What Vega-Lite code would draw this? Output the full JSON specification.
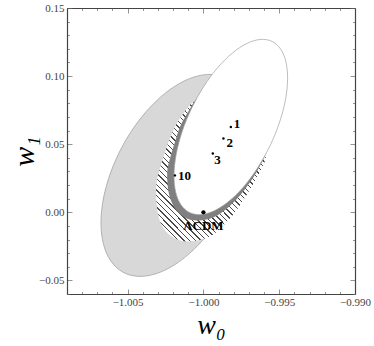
{
"$schema":"https://vega.github.io/schema/vega-lite/v6.json",
"width":288,"height":286,
"autosize":{"type":"none"},
"padding":{"left":67,"top":8,"right":19,"bottom":52},
"background":"white",
"datasets":{
"shapes":[
{"s":"A","i":0,"x":-0.997005,"y":0.061887},{"s":"A","i":1,"x":-0.997171,"y":0.043749},{"s":"A","i":2,"x":-0.997659,"y":0.024474},{"s":"A","i":3,"x":-0.998434,"y":0.005380},{"s":"A","i":4,"x":-0.999444,"y":-0.012235},{"s":"A","i":5,"x":-1.000620,"y":-0.027174},{"s":"A","i":6,"x":-1.001882,"y":-0.038414},{"s":"A","i":7,"x":-1.003144,"y":-0.045188},{"s":"A","i":8,"x":-1.004321,"y":-0.047039},{"s":"A","i":9,"x":-1.005331,"y":-0.043840},{"s":"A","i":10,"x":-1.006105,"y":-0.035806},{"s":"A","i":11,"x":-1.006593,"y":-0.023485},{"s":"A","i":12,"x":-1.006759,"y":-0.007721},{"s":"A","i":13,"x":-1.006593,"y":0.010417},{"s":"A","i":14,"x":-1.006105,"y":0.029692},{"s":"A","i":15,"x":-1.005331,"y":0.048786},{"s":"A","i":16,"x":-1.004321,"y":0.066401},{"s":"A","i":17,"x":-1.003144,"y":0.081340},{"s":"A","i":18,"x":-1.001882,"y":0.092580},{"s":"A","i":19,"x":-1.000620,"y":0.099354},{"s":"A","i":20,"x":-0.999444,"y":0.101205},{"s":"A","i":21,"x":-0.998434,"y":0.098006},{"s":"A","i":22,"x":-0.997659,"y":0.089972},{"s":"A","i":23,"x":-0.997171,"y":0.077651},
{"s":"B","i":0,"x":-0.999820,"y":0.080465},{"s":"B","i":1,"x":-1.000610,"y":0.081199},{"s":"B","i":2,"x":-1.001237,"y":0.073856},{"s":"B","i":3,"x":-1.001863,"y":0.063062},{"s":"B","i":4,"x":-1.002324,"y":0.050874},{"s":"B","i":5,"x":-1.002653,"y":0.040080},{"s":"B","i":6,"x":-1.002950,"y":0.029066},{"s":"B","i":7,"x":-1.003115,"y":0.018786},{"s":"B","i":8,"x":-1.003082,"y":0.005569},{"s":"B","i":9,"x":-1.002851,"y":-0.006913},{"s":"B","i":10,"x":-1.002324,"y":-0.015725},{"s":"B","i":11,"x":-1.001467,"y":-0.020865},{"s":"B","i":12,"x":-1.000479,"y":-0.020865},{"s":"B","i":13,"x":-0.999556,"y":-0.017560},{"s":"B","i":14,"x":-0.998765,"y":-0.010585},{"s":"B","i":15,"x":-0.997843,"y":0.001163},{"s":"B","i":16,"x":-0.996986,"y":0.015849},{"s":"B","i":17,"x":-0.996195,"y":0.031269},{"s":"B","i":18,"x":-0.995865,"y":0.042283},{"s":"B","i":19,"x":-0.996129,"y":0.053297},{"s":"B","i":20,"x":-0.997249,"y":0.064311},{"s":"B","i":21,"x":-0.998567,"y":0.073856},
{"s":"C","i":0,"x":-0.999820,"y":0.086339},{"s":"C","i":1,"x":-1.000446,"y":0.083402},{"s":"C","i":2,"x":-1.001006,"y":0.073856},{"s":"C","i":3,"x":-1.001533,"y":0.063062},{"s":"C","i":4,"x":-1.001896,"y":0.050874},{"s":"C","i":5,"x":-1.002192,"y":0.040080},{"s":"C","i":6,"x":-1.002390,"y":0.029066},{"s":"C","i":7,"x":-1.002278,"y":0.013646},{"s":"C","i":8,"x":-1.001849,"y":0.002412},{"s":"C","i":9,"x":-1.001098,"y":-0.004564},{"s":"C","i":10,"x":-1.000149,"y":-0.005885},{"s":"C","i":11,"x":-0.999108,"y":-0.002508},{"s":"C","i":12,"x":-0.998126,"y":0.006010},{"s":"C","i":13,"x":-0.997190,"y":0.018052},{"s":"C","i":14,"x":-0.996340,"y":0.032590},{"s":"C","i":15,"x":-0.995865,"y":0.045954},{"s":"C","i":16,"x":-0.996590,"y":0.054765},{"s":"C","i":17,"x":-0.997908,"y":0.069451},{"s":"C","i":18,"x":-0.999029,"y":0.081199},
{"s":"D","i":0,"x":-0.995477,"y":0.125475},{"s":"D","i":1,"x":-0.994901,"y":0.119748},{"s":"D","i":2,"x":-0.994550,"y":0.110129},{"s":"D","i":3,"x":-0.994446,"y":0.097273},{"s":"D","i":4,"x":-0.994598,"y":0.082056},{"s":"D","i":5,"x":-0.994995,"y":0.065511},{"s":"D","i":6,"x":-0.995609,"y":0.048773},{"s":"D","i":7,"x":-0.996400,"y":0.032979},{"s":"D","i":8,"x":-0.997313,"y":0.019202},{"s":"D","i":9,"x":-0.998285,"y":0.008385},{"s":"D","i":10,"x":-0.999252,"y":0.001266},{"s":"D","i":11,"x":-1.000146,"y":-0.001672},{"s":"D","i":12,"x":-1.000907,"y":-0.000231},{"s":"D","i":13,"x":-1.001483,"y":0.005496},{"s":"D","i":14,"x":-1.001835,"y":0.015115},{"s":"D","i":15,"x":-1.001938,"y":0.027971},{"s":"D","i":16,"x":-1.001786,"y":0.043188},{"s":"D","i":17,"x":-1.001390,"y":0.059733},{"s":"D","i":18,"x":-1.000775,"y":0.076471},{"s":"D","i":19,"x":-0.999984,"y":0.092265},{"s":"D","i":20,"x":-0.999072,"y":0.106042},{"s":"D","i":21,"x":-0.998099,"y":0.116859},{"s":"D","i":22,"x":-0.997133,"y":0.123978},{"s":"D","i":23,"x":-0.996238,"y":0.126916}
],
"pts":[
{"label":"1","x":-0.99819,"y":0.0626},
{"label":"2","x":-0.99868,"y":0.0542},
{"label":"3","x":-0.99938,"y":0.0432},
{"label":"10","x":-1.00188,"y":0.0271},
{"label":"ΛCDM","x":-1.0,"y":0.0}
]
},
"resolve":{"axis":{"x":"independent","y":"independent"}},
"layer":[
{"data":{"name":"shapes"},"transform":[{"filter":"datum.s=='A'"}],
 "mark":{"type":"line","interpolate":"cardinal-closed","filled":true,"fill":"#d8d8d8","stroke":"#9a9a9a","strokeWidth":0.7},
 "encoding":{
  "x":{"field":"x","type":"quantitative","scale":{"domain":[-1.009,-0.99],"nice":false,"zero":false},
   "axis":{"orient":"bottom","values":[-1.009,-1.008,-1.007,-1.006,-1.005,-1.004,-1.003,-1.002,-1.001,-1,-0.999,-0.998,-0.997,-0.996,-0.995,-0.994,-0.993,-0.992,-0.991,-0.99],
    "labelExpr":"abs(round(datum.value*1000))%5==0 ? format(datum.value,'.3f') : ''",
    "tickSize":{"condition":{"test":"abs(round(datum.value*1000))%5==0","value":-5},"value":-2.5},
    "labelPadding":7,
    "title":"w₀","titleFont":"Liberation Serif","titleFontStyle":"italic","titleFontWeight":"normal","titleFontSize":28,"titleColor":"#000","titleBaseline":"alphabetic","titleY":39}},
  "y":{"field":"y","type":"quantitative","scale":{"domain":[-0.06,0.15],"nice":false,"zero":false},
   "axis":{"orient":"left","values":[-0.06,-0.05,-0.04,-0.03,-0.02,-0.01,0,0.01,0.02,0.03,0.04,0.05,0.06,0.07,0.08,0.09,0.1,0.11,0.12,0.13,0.14,0.15],
    "labelExpr":"abs(round(datum.value*100))%5==0 ? format(datum.value,'.2f') : ''",
    "tickSize":{"condition":{"test":"abs(round(datum.value*100))%5==0","value":-5},"value":-2.5},
    "labelPadding":8,
    "title":"w₁","titleFont":"Liberation Serif","titleFontStyle":"italic","titleFontWeight":"normal","titleFontSize":30,"titleColor":"#000","titleBaseline":"alphabetic","titleX":-34}},
  "order":{"field":"i","type":"quantitative"}}},
{"data":{"name":"shapes"},"transform":[{"filter":"datum.s=='B'"}],
 "mark":{"type":"line","interpolate":"cardinal-closed","filled":true,"strokeWidth":0,"strokeOpacity":0,
  "fill":{"gradient":"linear","x1":0,"y1":1,"x2":0.786,"y2":0,"stops":[
{"offset":0,"color":"#4a4a4a"},{"offset":0.006,"color":"#4a4a4a"},{"offset":0.006,"color":"#fff"},{"offset":0.025,"color":"#fff"},
{"offset":0.025,"color":"#4a4a4a"},{"offset":0.031,"color":"#4a4a4a"},{"offset":0.031,"color":"#fff"},{"offset":0.05,"color":"#fff"},
{"offset":0.05,"color":"#4a4a4a"},{"offset":0.056,"color":"#4a4a4a"},{"offset":0.056,"color":"#fff"},{"offset":0.075,"color":"#fff"},
{"offset":0.075,"color":"#4a4a4a"},{"offset":0.081,"color":"#4a4a4a"},{"offset":0.081,"color":"#fff"},{"offset":0.1,"color":"#fff"},
{"offset":0.1,"color":"#4a4a4a"},{"offset":0.106,"color":"#4a4a4a"},{"offset":0.106,"color":"#fff"},{"offset":0.125,"color":"#fff"},
{"offset":0.125,"color":"#4a4a4a"},{"offset":0.131,"color":"#4a4a4a"},{"offset":0.131,"color":"#fff"},{"offset":0.15,"color":"#fff"},
{"offset":0.15,"color":"#4a4a4a"},{"offset":0.156,"color":"#4a4a4a"},{"offset":0.156,"color":"#fff"},{"offset":0.175,"color":"#fff"},
{"offset":0.175,"color":"#4a4a4a"},{"offset":0.181,"color":"#4a4a4a"},{"offset":0.181,"color":"#fff"},{"offset":0.2,"color":"#fff"},
{"offset":0.2,"color":"#4a4a4a"},{"offset":0.206,"color":"#4a4a4a"},{"offset":0.206,"color":"#fff"},{"offset":0.225,"color":"#fff"},
{"offset":0.225,"color":"#4a4a4a"},{"offset":0.231,"color":"#4a4a4a"},{"offset":0.231,"color":"#fff"},{"offset":0.25,"color":"#fff"},
{"offset":0.25,"color":"#4a4a4a"},{"offset":0.256,"color":"#4a4a4a"},{"offset":0.256,"color":"#fff"},{"offset":0.275,"color":"#fff"},
{"offset":0.275,"color":"#4a4a4a"},{"offset":0.281,"color":"#4a4a4a"},{"offset":0.281,"color":"#fff"},{"offset":0.3,"color":"#fff"},
{"offset":0.3,"color":"#4a4a4a"},{"offset":0.306,"color":"#4a4a4a"},{"offset":0.306,"color":"#fff"},{"offset":0.325,"color":"#fff"},
{"offset":0.325,"color":"#4a4a4a"},{"offset":0.331,"color":"#4a4a4a"},{"offset":0.331,"color":"#fff"},{"offset":0.35,"color":"#fff"},
{"offset":0.35,"color":"#4a4a4a"},{"offset":0.356,"color":"#4a4a4a"},{"offset":0.356,"color":"#fff"},{"offset":0.375,"color":"#fff"},
{"offset":0.375,"color":"#4a4a4a"},{"offset":0.381,"color":"#4a4a4a"},{"offset":0.381,"color":"#fff"},{"offset":0.4,"color":"#fff"},
{"offset":0.4,"color":"#4a4a4a"},{"offset":0.406,"color":"#4a4a4a"},{"offset":0.406,"color":"#fff"},{"offset":0.425,"color":"#fff"},
{"offset":0.425,"color":"#4a4a4a"},{"offset":0.431,"color":"#4a4a4a"},{"offset":0.431,"color":"#fff"},{"offset":0.45,"color":"#fff"},
{"offset":0.45,"color":"#4a4a4a"},{"offset":0.456,"color":"#4a4a4a"},{"offset":0.456,"color":"#fff"},{"offset":0.475,"color":"#fff"},
{"offset":0.475,"color":"#4a4a4a"},{"offset":0.481,"color":"#4a4a4a"},{"offset":0.481,"color":"#fff"},{"offset":0.5,"color":"#fff"},
{"offset":0.5,"color":"#4a4a4a"},{"offset":0.506,"color":"#4a4a4a"},{"offset":0.506,"color":"#fff"},{"offset":0.525,"color":"#fff"},
{"offset":0.525,"color":"#4a4a4a"},{"offset":0.531,"color":"#4a4a4a"},{"offset":0.531,"color":"#fff"},{"offset":0.55,"color":"#fff"},
{"offset":0.55,"color":"#4a4a4a"},{"offset":0.556,"color":"#4a4a4a"},{"offset":0.556,"color":"#fff"},{"offset":0.575,"color":"#fff"},
{"offset":0.575,"color":"#4a4a4a"},{"offset":0.581,"color":"#4a4a4a"},{"offset":0.581,"color":"#fff"},{"offset":0.6,"color":"#fff"},
{"offset":0.6,"color":"#4a4a4a"},{"offset":0.606,"color":"#4a4a4a"},{"offset":0.606,"color":"#fff"},{"offset":0.625,"color":"#fff"},
{"offset":0.625,"color":"#4a4a4a"},{"offset":0.631,"color":"#4a4a4a"},{"offset":0.631,"color":"#fff"},{"offset":0.65,"color":"#fff"},
{"offset":0.65,"color":"#4a4a4a"},{"offset":0.656,"color":"#4a4a4a"},{"offset":0.656,"color":"#fff"},{"offset":0.675,"color":"#fff"},
{"offset":0.675,"color":"#4a4a4a"},{"offset":0.681,"color":"#4a4a4a"},{"offset":0.681,"color":"#fff"},{"offset":0.7,"color":"#fff"},
{"offset":0.7,"color":"#4a4a4a"},{"offset":0.706,"color":"#4a4a4a"},{"offset":0.706,"color":"#fff"},{"offset":0.725,"color":"#fff"},
{"offset":0.725,"color":"#4a4a4a"},{"offset":0.731,"color":"#4a4a4a"},{"offset":0.731,"color":"#fff"},{"offset":0.75,"color":"#fff"},
{"offset":0.75,"color":"#4a4a4a"},{"offset":0.756,"color":"#4a4a4a"},{"offset":0.756,"color":"#fff"},{"offset":0.775,"color":"#fff"},
{"offset":0.775,"color":"#4a4a4a"},{"offset":0.781,"color":"#4a4a4a"},{"offset":0.781,"color":"#fff"},{"offset":0.8,"color":"#fff"},
{"offset":0.8,"color":"#4a4a4a"},{"offset":0.806,"color":"#4a4a4a"},{"offset":0.806,"color":"#fff"},{"offset":0.825,"color":"#fff"},
{"offset":0.825,"color":"#4a4a4a"},{"offset":0.831,"color":"#4a4a4a"},{"offset":0.831,"color":"#fff"},{"offset":0.85,"color":"#fff"},
{"offset":0.85,"color":"#4a4a4a"},{"offset":0.856,"color":"#4a4a4a"},{"offset":0.856,"color":"#fff"},{"offset":0.875,"color":"#fff"},
{"offset":0.875,"color":"#4a4a4a"},{"offset":0.881,"color":"#4a4a4a"},{"offset":0.881,"color":"#fff"},{"offset":0.9,"color":"#fff"},
{"offset":0.9,"color":"#4a4a4a"},{"offset":0.906,"color":"#4a4a4a"},{"offset":0.906,"color":"#fff"},{"offset":0.925,"color":"#fff"},
{"offset":0.925,"color":"#4a4a4a"},{"offset":0.931,"color":"#4a4a4a"},{"offset":0.931,"color":"#fff"},{"offset":0.95,"color":"#fff"},
{"offset":0.95,"color":"#4a4a4a"},{"offset":0.956,"color":"#4a4a4a"},{"offset":0.956,"color":"#fff"},{"offset":0.975,"color":"#fff"},
{"offset":0.975,"color":"#4a4a4a"},{"offset":0.981,"color":"#4a4a4a"},{"offset":0.981,"color":"#fff"},{"offset":1,"color":"#fff"}
  ]}},
 "encoding":{
  "x":{"field":"x","type":"quantitative","scale":{"domain":[-1.009,-0.99],"nice":false,"zero":false},"axis":null},
  "y":{"field":"y","type":"quantitative","scale":{"domain":[-0.06,0.15],"nice":false,"zero":false},"axis":null},
  "order":{"field":"i","type":"quantitative"}}},
{"data":{"name":"shapes"},"transform":[{"filter":"datum.s=='C'"}],
 "mark":{"type":"line","interpolate":"cardinal-closed","filled":true,"fill":"#808080","strokeWidth":0,"strokeOpacity":0},
 "encoding":{
  "x":{"field":"x","type":"quantitative","scale":{"domain":[-1.009,-0.99],"nice":false,"zero":false},"axis":null},
  "y":{"field":"y","type":"quantitative","scale":{"domain":[-0.06,0.15],"nice":false,"zero":false},"axis":null},
  "order":{"field":"i","type":"quantitative"}}},
{"data":{"name":"shapes"},"transform":[{"filter":"datum.s=='D'"}],
 "mark":{"type":"line","interpolate":"cardinal-closed","filled":true,"fill":"#ffffff","stroke":"#a0a0a0","strokeWidth":0.7},
 "encoding":{
  "x":{"field":"x","type":"quantitative","scale":{"domain":[-1.009,-0.99],"nice":false,"zero":false},
   "axis":{"orient":"top","values":[-1.009,-1.008,-1.007,-1.006,-1.005,-1.004,-1.003,-1.002,-1.001,-1,-0.999,-0.998,-0.997,-0.996,-0.995,-0.994,-0.993,-0.992,-0.991,-0.99],
    "labels":false,"title":null,
    "tickSize":{"condition":{"test":"abs(round(datum.value*1000))%5==0","value":-5},"value":-2.5}}},
  "y":{"field":"y","type":"quantitative","scale":{"domain":[-0.06,0.15],"nice":false,"zero":false},
   "axis":{"orient":"right","values":[-0.06,-0.05,-0.04,-0.03,-0.02,-0.01,0,0.01,0.02,0.03,0.04,0.05,0.06,0.07,0.08,0.09,0.1,0.11,0.12,0.13,0.14,0.15],
    "labels":false,"title":null,
    "tickSize":{"condition":{"test":"abs(round(datum.value*100))%5==0","value":-5},"value":-2.5}}},
  "order":{"field":"i","type":"quantitative"}}},
{"data":{"name":"pts"},"transform":[{"filter":"datum.label!='ΛCDM'"}],
 "mark":{"type":"point","filled":true,"color":"#000","size":6,"opacity":1},
 "encoding":{
  "x":{"field":"x","type":"quantitative","scale":{"domain":[-1.009,-0.99],"nice":false,"zero":false},"axis":null},
  "y":{"field":"y","type":"quantitative","scale":{"domain":[-0.06,0.15],"nice":false,"zero":false},"axis":null}}},
{"data":{"name":"pts"},"transform":[{"filter":"datum.label=='ΛCDM'"}],
 "mark":{"type":"point","filled":true,"color":"#000","size":18,"opacity":1},
 "encoding":{
  "x":{"field":"x","type":"quantitative","scale":{"domain":[-1.009,-0.99],"nice":false,"zero":false},"axis":null},
  "y":{"field":"y","type":"quantitative","scale":{"domain":[-0.06,0.15],"nice":false,"zero":false},"axis":null}}},
{"data":{"name":"pts"},"transform":[{"filter":"datum.label=='1'"}],
 "mark":{"type":"text","font":"Liberation Serif","fontWeight":"bold","fontSize":13,"color":"#000","align":"left","baseline":"middle","dx":3,"dy":-3},
 "encoding":{
  "x":{"field":"x","type":"quantitative","scale":{"domain":[-1.009,-0.99],"nice":false,"zero":false},"axis":null},
  "y":{"field":"y","type":"quantitative","scale":{"domain":[-0.06,0.15],"nice":false,"zero":false},"axis":null},
  "text":{"field":"label"}}},
{"data":{"name":"pts"},"transform":[{"filter":"datum.label=='2'"}],
 "mark":{"type":"text","font":"Liberation Serif","fontWeight":"bold","fontSize":13,"color":"#000","align":"left","baseline":"middle","dx":3,"dy":4.5},
 "encoding":{
  "x":{"field":"x","type":"quantitative","scale":{"domain":[-1.009,-0.99],"nice":false,"zero":false},"axis":null},
  "y":{"field":"y","type":"quantitative","scale":{"domain":[-0.06,0.15],"nice":false,"zero":false},"axis":null},
  "text":{"field":"label"}}},
{"data":{"name":"pts"},"transform":[{"filter":"datum.label=='3'"}],
 "mark":{"type":"text","font":"Liberation Serif","fontWeight":"bold","fontSize":13,"color":"#000","align":"left","baseline":"middle","dx":1.5,"dy":7},
 "encoding":{
  "x":{"field":"x","type":"quantitative","scale":{"domain":[-1.009,-0.99],"nice":false,"zero":false},"axis":null},
  "y":{"field":"y","type":"quantitative","scale":{"domain":[-0.06,0.15],"nice":false,"zero":false},"axis":null},
  "text":{"field":"label"}}},
{"data":{"name":"pts"},"transform":[{"filter":"datum.label=='10'"}],
 "mark":{"type":"text","font":"Liberation Serif","fontWeight":"bold","fontSize":13,"color":"#000","align":"left","baseline":"middle","dx":3,"dy":0.5},
 "encoding":{
  "x":{"field":"x","type":"quantitative","scale":{"domain":[-1.009,-0.99],"nice":false,"zero":false},"axis":null},
  "y":{"field":"y","type":"quantitative","scale":{"domain":[-0.06,0.15],"nice":false,"zero":false},"axis":null},
  "text":{"field":"label"}}},
{"data":{"name":"pts"},"transform":[{"filter":"datum.label=='ΛCDM'"}],
 "mark":{"type":"text","font":"Liberation Serif","fontWeight":"bold","fontSize":13,"color":"#000","align":"center","baseline":"middle","dx":0,"dy":13.5},
 "encoding":{
  "x":{"field":"x","type":"quantitative","scale":{"domain":[-1.009,-0.99],"nice":false,"zero":false},"axis":null},
  "y":{"field":"y","type":"quantitative","scale":{"domain":[-0.06,0.15],"nice":false,"zero":false},"axis":null},
  "text":{"field":"label"}}}
],
"config":{
 "view":{"stroke":null},
 "axis":{"grid":false,"domainColor":"#444","domainWidth":1.2,"tickColor":"#666","tickWidth":0.7,"labelFont":"Liberation Serif","labelFontSize":11,"labelColor":"#444","labelFlush":false,"labelOverlap":false,"zindex":1}
}
}
